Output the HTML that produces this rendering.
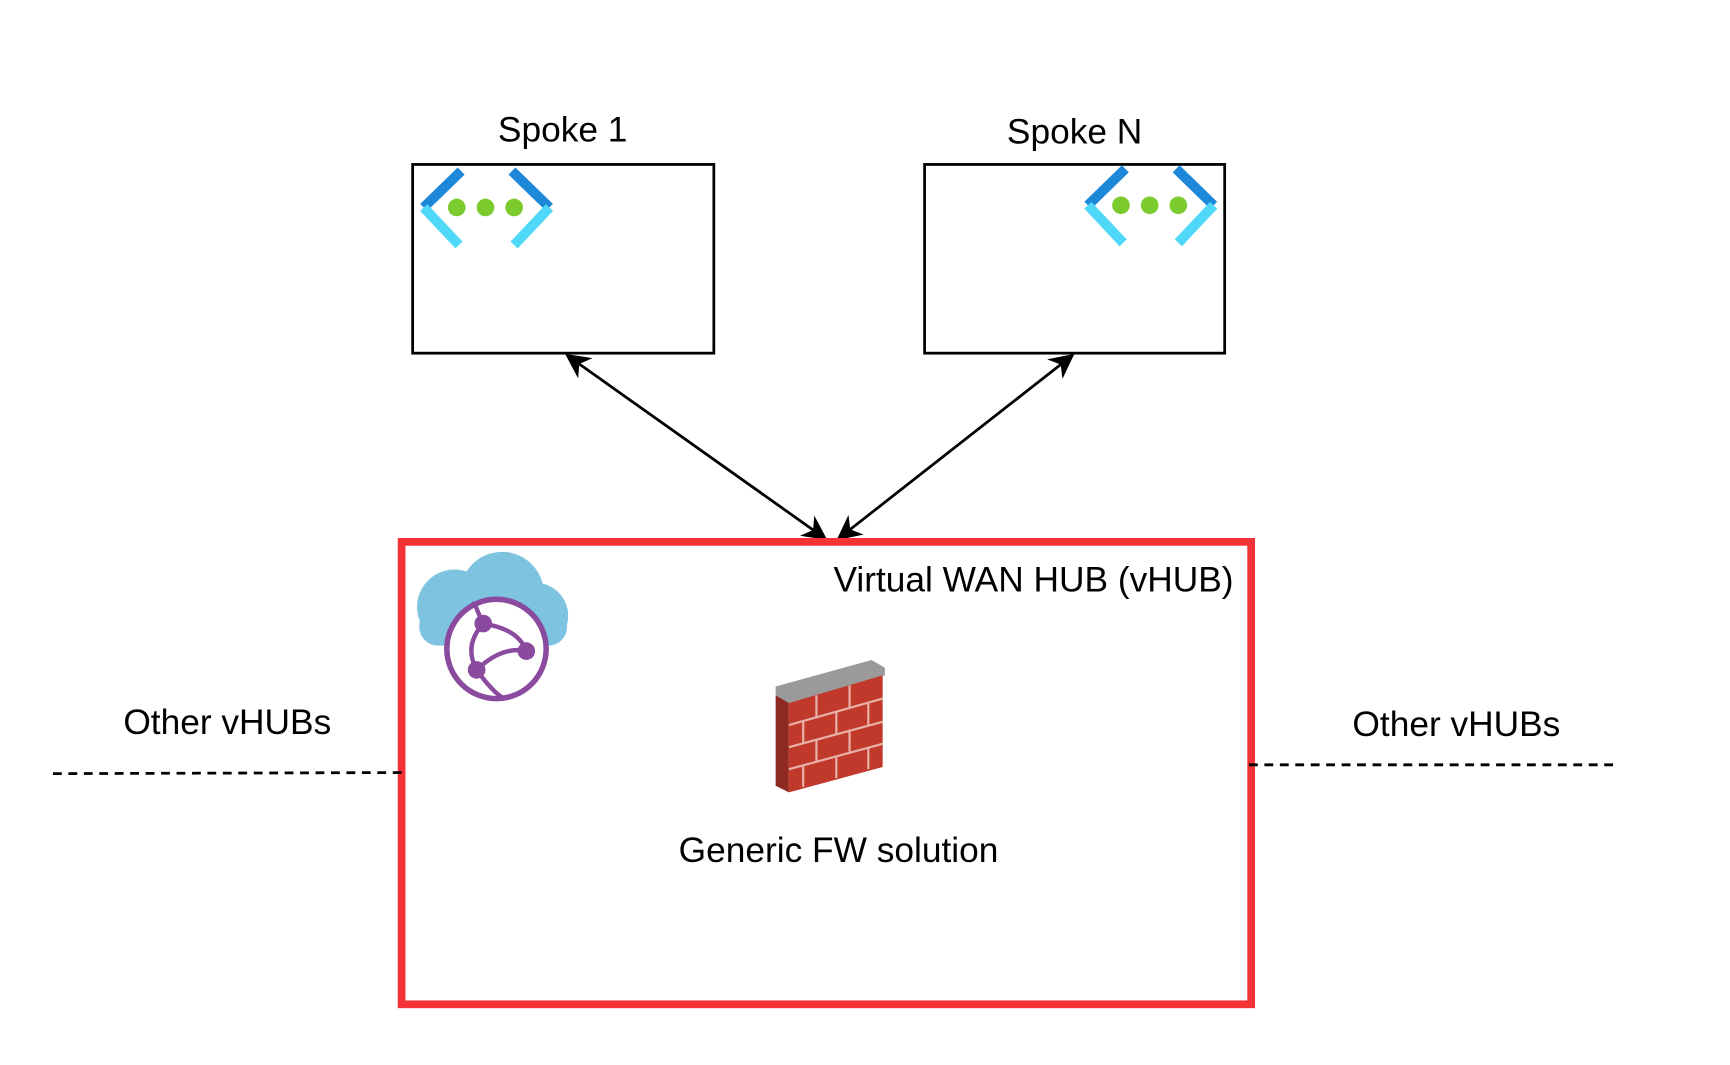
<!DOCTYPE html>
<html><head><style>html,body{margin:0;padding:0;background:#fff;}svg{display:block}</style></head>
<body>
<svg width="1730" height="1065" viewBox="0 0 1568 965" preserveAspectRatio="none" xmlns="http://www.w3.org/2000/svg" font-family="Liberation Sans, Arial, sans-serif">
<defs>
<marker id="ah" viewBox="0 0 10 10" refX="9" refY="5" markerWidth="9" markerHeight="9" orient="auto-start-reverse"><path d="M0,0 L10,5 L0,10 L3,5 z" fill="#000"/></marker>
<g id="vnet">
<path d="M40,5 L6,38" stroke="#1e88d8" stroke-width="9" fill="none"/>
<path d="M6,38 L38,72" stroke="#50d8f8" stroke-width="9" fill="none"/>
<path d="M86,5 L120,38" stroke="#1e88d8" stroke-width="9" fill="none"/>
<path d="M120,38 L88,72" stroke="#50d8f8" stroke-width="9" fill="none"/>
<circle cx="36" cy="38" r="8" fill="#7ccb2e"/><circle cx="62" cy="38" r="8" fill="#7ccb2e"/><circle cx="88" cy="38" r="8" fill="#7ccb2e"/>
</g>
</defs>
<text x="510" y="128" font-size="32" text-anchor="middle">Spoke 1</text>
<text x="974" y="130" font-size="32" text-anchor="middle">Spoke N</text>
<rect x="374" y="149" width="273" height="171" fill="none" stroke="#000" stroke-width="2.5"/>
<rect x="838" y="149" width="272" height="171" fill="none" stroke="#000" stroke-width="2.5"/>
<use href="#vnet" x="378" y="150"/>
<use href="#vnet" x="980" y="148"/>
<line x1="748" y1="488" x2="514" y2="322" stroke="#000" stroke-width="2.5" marker-start="url(#ah)" marker-end="url(#ah)"/>
<line x1="760" y1="488" x2="972" y2="322" stroke="#000" stroke-width="2.5" marker-start="url(#ah)" marker-end="url(#ah)"/>
<rect x="364" y="491" width="770" height="419" fill="none" stroke="#f53238" stroke-width="7"/>
<text x="1118" y="536" font-size="32" text-anchor="end">Virtual WAN HUB (vHUB)</text>
<g>
<circle cx="412" cy="550" r="34" fill="#7ec3e0"/><circle cx="455" cy="538" r="38" fill="#7ec3e0"/><circle cx="485" cy="558" r="30" fill="#7ec3e0"/>
<rect x="380" y="550" width="134" height="35" rx="17" fill="#7ec3e0"/>
<circle cx="450" cy="588" r="45" fill="#fff" stroke="#8a4a9e" stroke-width="5"/>
<path d="M438,565 Q420,585 432,607 M438,565 Q470,570 477,590 M432,607 Q455,585 477,590 M432,607 Q445,625 455,632 M438,565 Q430,548 430,545" stroke="#8a4a9e" stroke-width="4" fill="none"/>
<circle cx="438" cy="565" r="8" fill="#8a4a9e"/><circle cx="477" cy="590" r="8" fill="#8a4a9e"/><circle cx="432" cy="607" r="8" fill="#8a4a9e"/>
</g>
<g>
<polygon points="703,622 790,598 802,605 802,612 715,637 703,630" fill="#9a9a9a"/>
<polygon points="703,630 715,637 715,718 703,712" fill="#8f2a22"/>
<polygon points="715,637 800,612 800,695 715,718" fill="#c0392b"/>
<g stroke="#e8b0a8" stroke-width="2">
<line x1="715" y1="657" x2="800" y2="633"/><line x1="715" y1="677" x2="800" y2="654"/><line x1="715" y1="697" x2="800" y2="674"/>
<line x1="740" y1="630" x2="740" y2="650"/><line x1="770" y1="621" x2="770" y2="641"/><line x1="728" y1="653" x2="728" y2="673"/><line x1="758" y1="645" x2="758" y2="665"/><line x1="787" y1="637" x2="787" y2="657"/>
<line x1="740" y1="670" x2="740" y2="690"/><line x1="770" y1="661" x2="770" y2="681"/><line x1="728" y1="693" x2="728" y2="713"/><line x1="758" y1="685" x2="758" y2="705"/><line x1="787" y1="677" x2="787" y2="697"/>
</g>
</g>
<text x="760" y="781" font-size="32" text-anchor="middle">Generic FW solution</text>
<text x="206" y="665" font-size="32" text-anchor="middle">Other vHUBs</text>
<text x="1320" y="667" font-size="32" text-anchor="middle">Other vHUBs</text>
<line x1="48" y1="701" x2="366" y2="700" stroke="#000" stroke-width="2.5" stroke-dasharray="8,6"/>
<line x1="1132" y1="693" x2="1462" y2="693" stroke="#000" stroke-width="2.5" stroke-dasharray="8,6"/>
</svg>
</body></html>
